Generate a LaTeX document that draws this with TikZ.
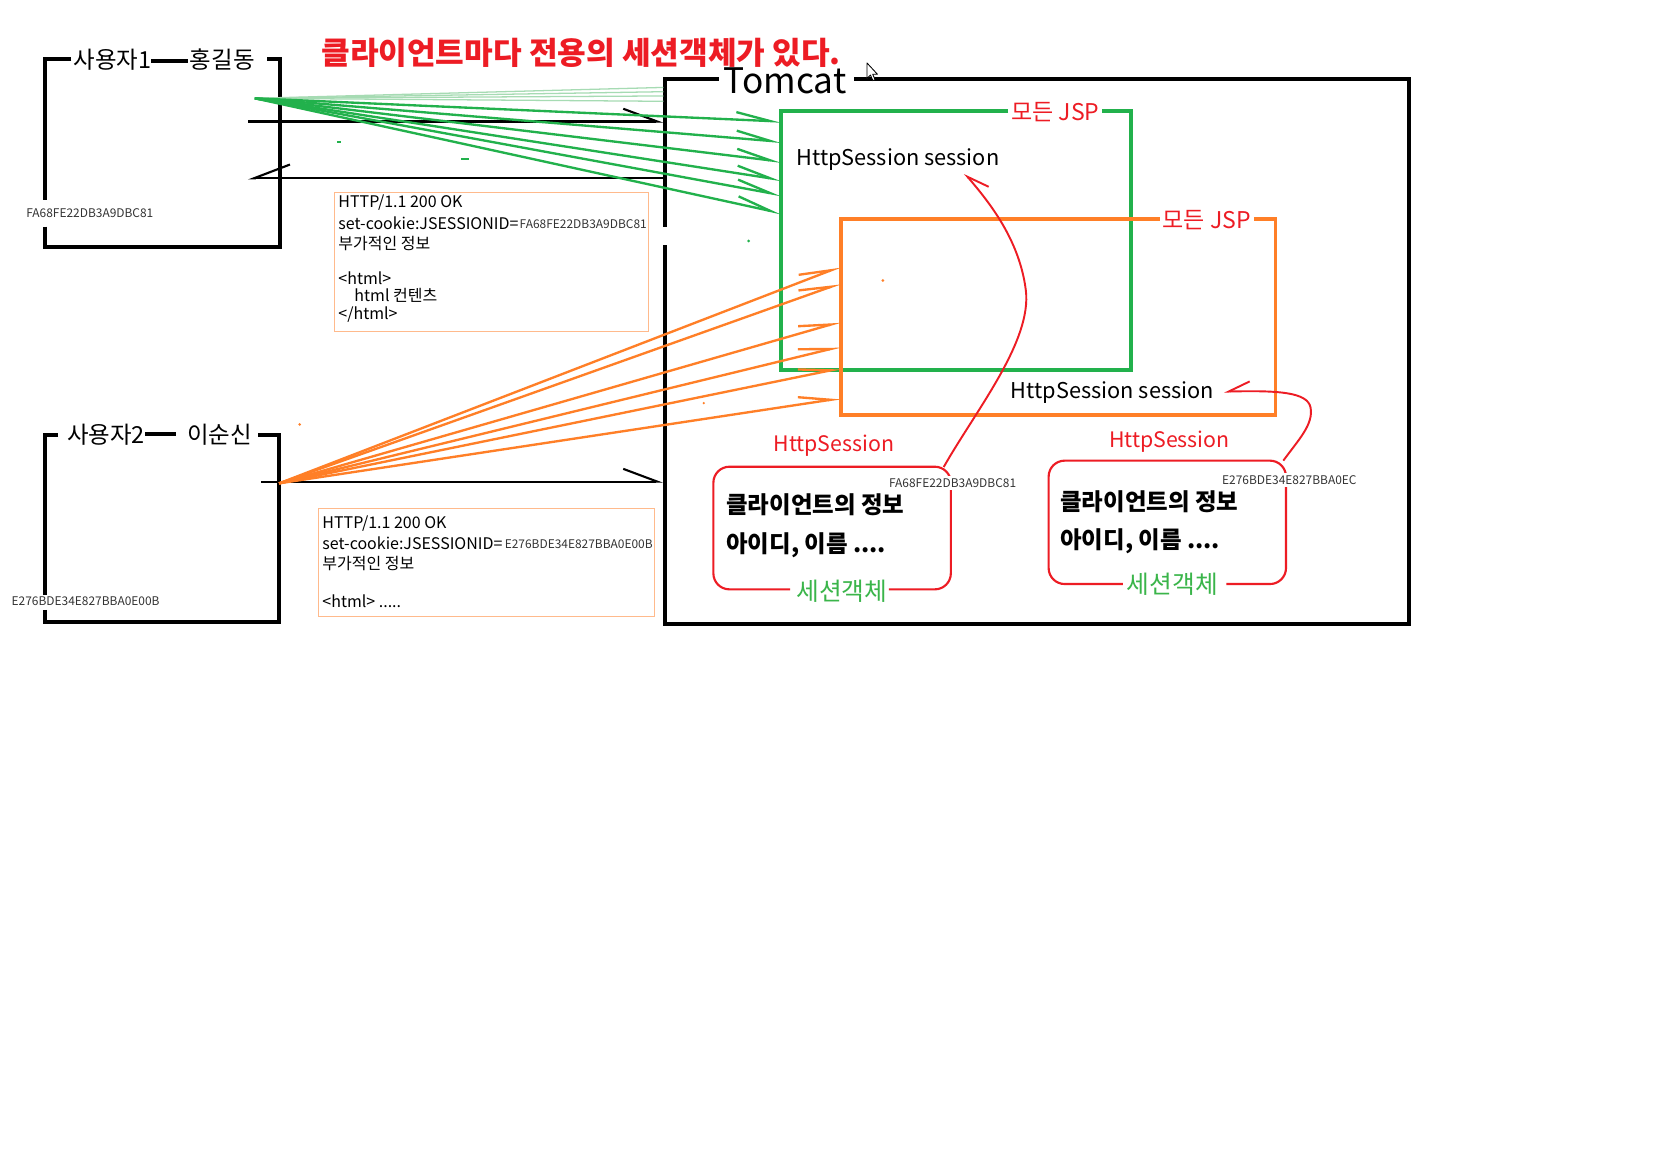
\documentclass[tikz,border=0pt]{standalone}
\usepackage{fontspec}
\setmainfont{Noto Sans CJK KR}
\usetikzlibrary{arrows.meta}
\definecolor{pgreen}{HTML}{22B14C}
\definecolor{sgreen}{HTML}{3AB54A}
\definecolor{porange}{HTML}{FF7F27}
\definecolor{pred}{HTML}{ED1C24}
\definecolor{lorange}{HTML}{FFBA8C}
\definecolor{lgreen}{HTML}{A6DBB3}
\definecolor{idgray}{HTML}{333333}
\newcommand\myfs[1]{\fontsize{#1}{#1}\selectfont}
\begin{document}
\begin{tikzpicture}[x=0.5pt,y=-0.5pt,
  frame/.style={line width=1.9pt,line join=miter},
  thinline/.style={line width=1pt},
  reqarr/.style={thinline,-{Straight Barb[harpoon,length=16pt,width=12pt]}},
  resarr/.style={thinline,-{Straight Barb[harpoon,swap,length=17pt,width=13pt]}},
  garr/.style={pgreen,line width=1.1pt,-{Straight Barb[harpoon,length=16pt,width=7pt]}},
  oarr/.style={porange,line width=1.1pt,-{Straight Barb[harpoon,length=15pt,width=7pt]}},
  rarr/.style={pred,line width=0.9pt,-{Straight Barb[harpoon,swap,length=10pt,width=9pt]}},
  jspg/.style={pgreen,line width=1.8pt,line join=miter},
  jspo/.style={porange,line width=1.8pt,line join=miter},
  sbox/.style={pred,line width=1pt,rounded corners=7.5pt},
  hbox/.style={lorange,line width=0.6pt},
  txt/.style={inner sep=0pt},
  ulab/.style={txt,font=\myfs{11}},
  tiny/.style={txt,font=\myfs{5.6},text=idgray},
  tinyhole/.style={tiny,fill=white,inner sep=1.2pt},
  http/.style={txt,anchor=west,font=\myfs{7.5}},
  redlab/.style={txt,text=pred,font=\myfs{10.8}},
  seslab/.style={txt,text=pred,font=\myfs{10}},
  blab/.style={txt,anchor=west,font=\myfs{10.2}},
  info/.style={txt,anchor=west,font=\myfs{11}\bfseries},
  objlab/.style={txt,text=sgreen,font=\myfs{11.6}},
]
\useasboundingbox (0,0) rectangle (1568,1095.4);
\fill[white] (0,0) rectangle (1568,1095.4);

% title
\node[txt,anchor=west,text=pred,font=\myfs{14.6}\bfseries] (title) at (301,50) {클라이언트마다 전용의 세션객체가 있다.};

% user 1
\draw[frame] (67,55) -- (42,55) -- (42,187.6);
\draw[frame] (42,212.6) -- (42,232) -- (263,232) -- (263,55) -- (250,55);
\draw[frame] (142,57) -- (176,57);
\node[ulab] (u1name) at (105.5,56) {사용자1};
\node[ulab] (u1real) at (208.5,56) {홍길동};
\node[tiny,anchor=west] (u1id) at (24.3,200) {FA68FE22DB3A9DBC81};

% user 2
\draw[frame] (54.5,408) -- (42,408) -- (42,558);
\draw[frame] (42,572) -- (42,583) -- (261.7,583) -- (261.7,408) -- (242,408);
\draw[frame] (136,407) -- (165,407);
\node[ulab] (u2name) at (99.5,408) {사용자2};
\node[ulab] (u2real) at (206,408) {이순신};
\node[tiny,anchor=west] (u2id) at (10.5,564) {E276BDE34E827BBA0E00B};

% tomcat
\draw[frame] (674,74.4) -- (623.8,74.4) -- (623.8,212.6);
\draw[frame] (623.8,230) -- (623.8,585) -- (1321.7,585) -- (1321.7,74.4) -- (801,74.4);
\node[txt,anchor=west,font=\myfs{16.5}] (tomcat) at (678.5,76) {Tomcat};

% JSP boxes
\draw[jspg] (945.5,104.1) -- (732.4,104.1) -- (732.4,347) -- (1060.5,347) -- (1060.5,104.1) -- (1033.5,104.1);
\node[redlab] (jsp1) at (989.6,105.5) {모든 JSP};
\draw[jspo] (1087.6,205.4) -- (788.4,205.4) -- (788.4,389.2) -- (1196.1,389.2) -- (1196.1,205.4) -- (1175.8,205.4);
\node[redlab] (jsp2) at (1131.8,206) {모든 JSP};
\node[blab] (hs1) at (746.5,150) {HttpSession session};
\node[blab] (hs2) at (947.6,368) {HttpSession session};

% HTTP responses
\draw[hbox] (314,180.7) rectangle (608,311);
\node[http] (h1a) at (317,190) {HTTP/1.1 200 OK};
\node[http] (h1b) at (317,209) {set-cookie:JSESSIONID=};
\node[tiny,anchor=west] (h1id) at (487,210) {FA68FE22DB3A9DBC81};
\node[http] (h1c) at (317,228) {부가적인 정보};
\node[http] (h1d) at (317,261) {<html>};
\node[http] (h1e) at (332,277) {html 컨텐츠};
\node[http] (h1f) at (317,295) {</html>};

\draw[hbox] (298.5,476.7) rectangle (613.7,578.3);
\node[http] (h2a) at (302,490.8) {HTTP/1.1 200 OK};
\node[http] (h2b) at (302,509.6) {set-cookie:JSESSIONID=};
\node[tiny,anchor=west] (h2id) at (473,510) {E276BDE34E827BBA0E00B};
\node[http] (h2c) at (302,528.3) {부가적인 정보};
\node[http] (h2d) at (302,564.3) {<html> .....};

% session objects
\draw[sbox] (741,552.7) -- (669,552.7) -- (669,437.7) -- (891.7,437.7) -- (891.7,552.7) -- (833.6,552.7);
\node[seslab] (sAlab) at (782,418) {HttpSession};
\node[tinyhole,anchor=west] (sAid) at (831,453.3) {FA68FE22DB3A9DBC81};
\node[info] (sAi1) at (680.7,473.6) {클라이언트의 정보};
\node[info] (sAi2) at (680.7,511) {아이디, 이름 ....};
\node[objlab] (sAobj) at (789.5,554) {세션객체};

\draw[sbox] (1053,547.7) -- (983.4,547.7) -- (983.4,432) -- (1206,432) -- (1206,547.7) -- (1150,547.7);
\node[seslab] (sBlab) at (1096.6,414) {HttpSession};
\node[tinyhole,anchor=west] (sBid) at (1143.3,450) {E276BDE34E827BBA0EC};
\node[info] (sBi1) at (994,470.5) {클라이언트의 정보};
\node[info] (sBi2) at (994,508) {아이디, 이름 ....};
\node[objlab] (sBobj) at (1099.5,547.7) {세션객체};

% black request / response lines
\coordinate (q1s) at (233,114); \coordinate (q1e) at (622,114);
\draw[reqarr] (q1s) -- (q1e);
\coordinate (r1s) at (622,167.3); \coordinate (r1e) at (232.5,167.3);
\draw[resarr] (r1s) -- (r1e);
\coordinate (q2s) at (245,451.7); \coordinate (q2e) at (622,451.7);
\draw[reqarr] (q2s) -- (q2e);

% green arrows
\coordinate (u1src) at (239,92.2);
\foreach \i/\y in {1/82,2/86,3/90,4/95} \coordinate (lg\i) at (622,\y);
\foreach \i in {1,...,4} \draw[lgreen,line width=0.6pt] (u1src) -- (lg\i);
\foreach \i/\y in {1/114,2/133,3/151.6,4/168.8,5/183,6/200} \coordinate (ga\i) at (732.4,\y);
\foreach \i in {1,...,6} \draw[garr] (u1src) -- (ga\i);

% orange arrows
\coordinate (u2src) at (261.7,453.3);
\foreach \i/\y in {1/250,2/265.7,3/301.7,4/325,5/345.4,6/373.5} \coordinate (oa\i) at (788.4,\y);
\foreach \i in {1,...,6} \draw[oarr] (u2src) -- (oa\i);

% red curves
\coordinate (cA) at (885,438);
\coordinate (hs1tip) at (904.6,162.6);
\draw[rarr] (cA) .. controls (915,385) and (968,320) .. (962,272) .. controls (956,225) and (928,190) .. (hs1tip);
\coordinate (cB) at (1203.5,432);
\coordinate (hs2tip) at (1148,367.3);
\draw[rarr] (cB) .. controls (1218,412) and (1232,398) .. (1229,382) .. controls (1226,368) and (1200,366) .. (hs2tip);

% stray marks
\fill[pgreen] (316,132) rectangle (320,134.5);
\fill[pgreen] (432,148) rectangle (440,150);
\fill[pgreen] (702,226) circle (0.7pt);
\fill[porange] (281,398) circle (0.7pt);
\fill[porange] (828,263) circle (0.7pt);
\fill[porange] (660,378) circle (0.6pt);

% mouse pointer
\draw[line width=0.4pt,fill=white,line join=round] (813,59) -- (813,73.5) -- (816.3,70.4) -- (818.6,75.6) -- (820.6,74.7) -- (818.4,69.6) -- (822.8,69.6) -- cycle;
\end{tikzpicture}
\end{document}
